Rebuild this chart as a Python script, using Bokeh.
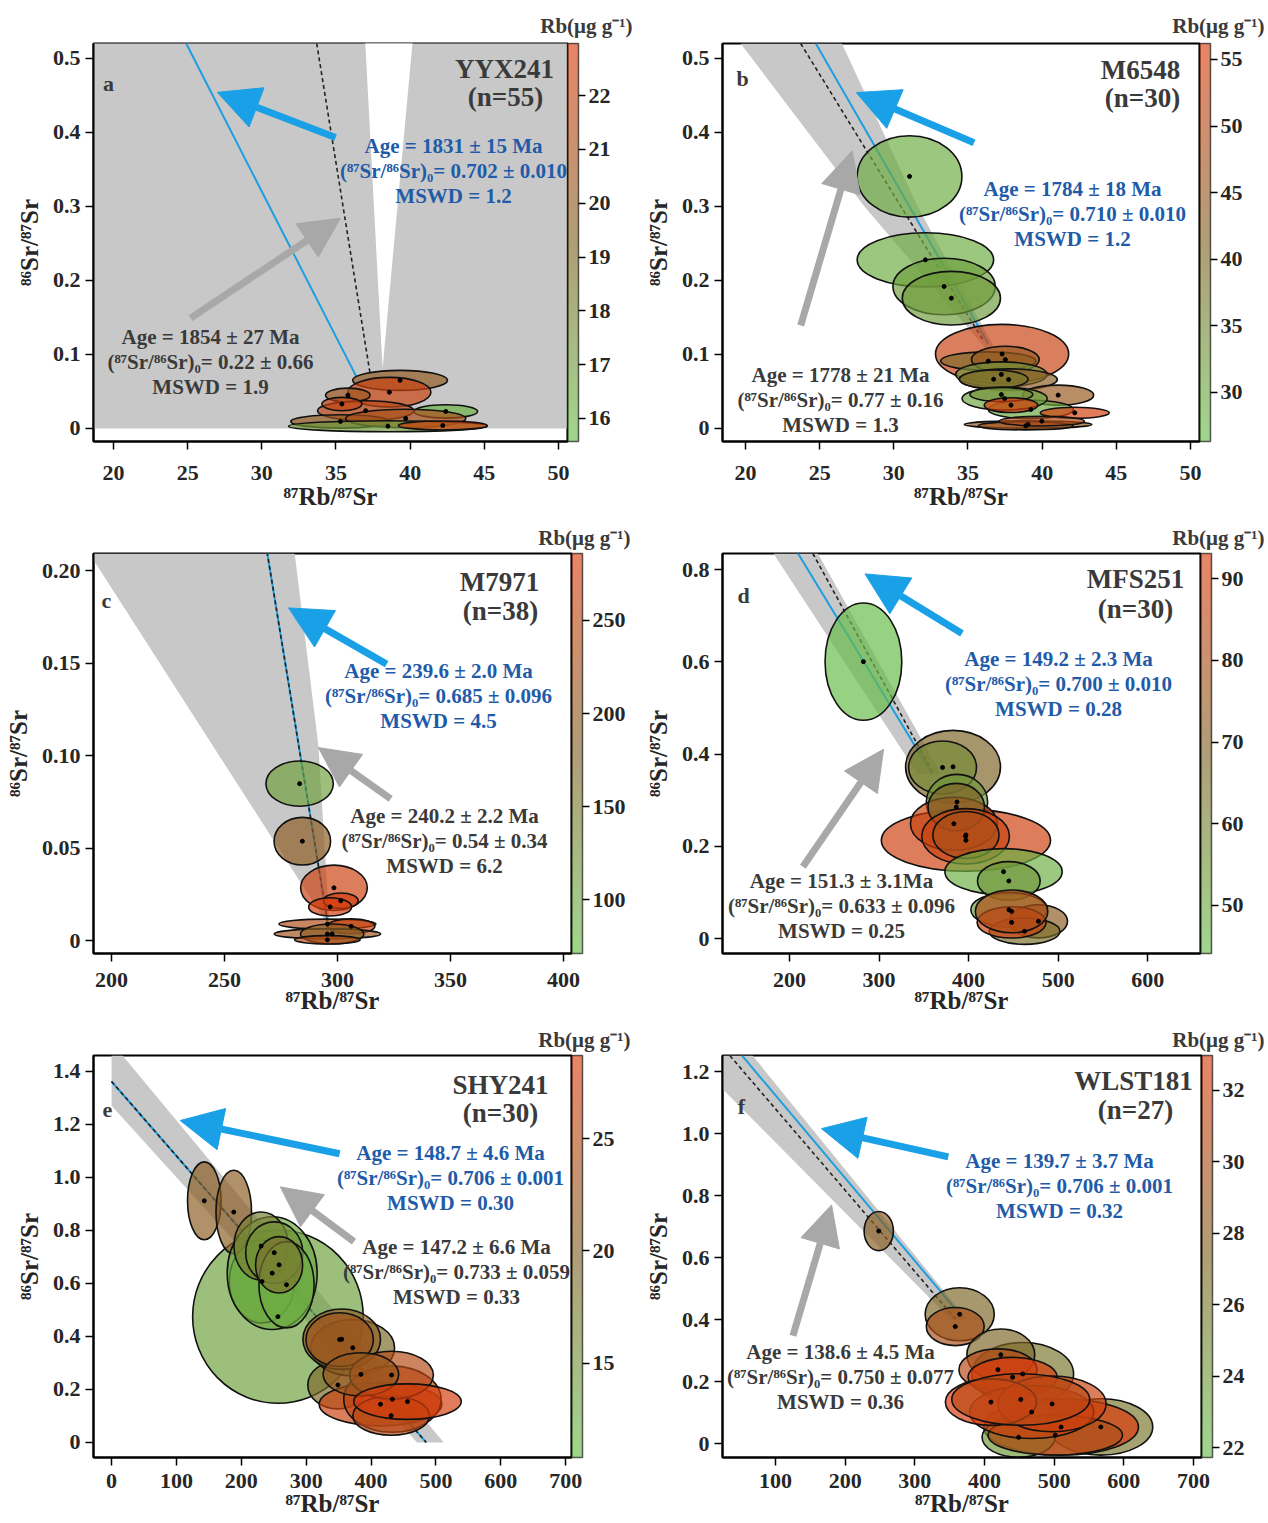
import math
from bokeh.plotting import figure
from bokeh.models import (Range1d, ColorBar, LinearColorMapper, FixedTicker, Arrow,
                          NormalHead, Label, ColumnDataSource, Title)
from bokeh.transform import transform
from bokeh.layouts import column, row
from bokeh.embed import file_html
from bokeh.resources import INLINE

# ---------------- DATA ----------------
# panel a : YYX241
a_x = [39.32, 38.6, 35.8, 37.0, 42.4, 35.3, 39.7, 38.5, 42.2, 35.4]
a_y = [0.065, 0.049, 0.045, 0.024, 0.023, 0.0095, 0.0135, 0.003, 0.004, 0.033]
a_w = [6.4, 5.6, 3.0, 6.5, 4.3, 6.7, 8.1, 13.4, 6.0, 2.7]
a_h = [0.027, 0.040, 0.019, 0.027, 0.018, 0.018, 0.025, 0.015, 0.012, 0.018]
a_rb = [20.0, 22.3, 20.5, 21.8, 16.0, 20.0, 21.0, 17.0, 22.5, 22.0]
# panel b : M6548
b_x = [31.06, 32.13, 33.39, 33.88, 37.3, 36.37, 37.52, 37.25, 37.74, 36.73, 41.08, 39.24,
       37.47, 37.25, 37.9, 42.2, 39.05, 38.9, 39.98]
b_y = [0.3405, 0.2278, 0.1918, 0.176, 0.1006, 0.091, 0.093, 0.073, 0.066, 0.0665, 0.045,
       0.0256, 0.0404, 0.0458, 0.0315, 0.0211, 0.0054, 0.0036, 0.0099]
b_w = [7.06, 9.2, 6.9, 6.62, 8.98, 6.43, 4.57, 6.16, 6.57, 4.65, 4.79, 5.75, 5.75, 4.24,
       3.61, 4.65, 8.6, 6.4, 5.75]
b_h = [0.110, 0.073, 0.0764, 0.0723, 0.080, 0.025, 0.036, 0.034, 0.029, 0.025, 0.027,
       0.025, 0.031, 0.019, 0.020, 0.015, 0.010, 0.011, 0.013]
b_rb = [29, 29, 31, 32, 53, 40, 45, 33, 43, 38, 45, 30, 30, 34, 56, 55, 45, 47, 50]
# panel c : M7971
c_x = [283.2, 284.4, 298.4, 301.4, 296.7, 295.5, 306.0, 295.5, 297.6, 295.5]
c_y = [0.0848, 0.0537, 0.0285, 0.0215, 0.0182, 0.0089, 0.0077, 0.0036, 0.0036, 0.0004]
c_w = [29.8, 25.0, 29.5, 15.4, 19.0, 43.0, 21.0, 47.0, 28.0, 29.0]
c_h = [0.0245, 0.0258, 0.0245, 0.0084, 0.0098, 0.0054, 0.008, 0.0054, 0.0107, 0.0045]
c_rb = [105, 195, 270, 275, 280, 235, 265, 220, 190, 240]
# panel d : MFS251
d_x = [282.5, 397.0, 382.6, 370.9, 387.0, 383.5, 386.2, 396.6, 397.0, 439.0, 444.9, 445.0,
       478.0, 462.5, 448.0, 448.0]
d_y = [0.6005, 0.213, 0.3724, 0.371, 0.296, 0.249, 0.285, 0.2217, 0.2246, 0.145, 0.1248,
       0.0624, 0.0373, 0.0158, 0.035, 0.0588]
d_w = [85.7, 189, 106, 75.8, 68.5, 97, 63, 98, 74, 131, 70, 85, 65, 79, 77, 81]
d_h = [0.2547, 0.134, 0.158, 0.115, 0.12, 0.115, 0.103, 0.12, 0.102, 0.10, 0.084, 0.075,
       0.072, 0.057, 0.068, 0.093]
d_rb = [44.5, 90, 68, 58, 55, 88, 68, 88, 80, 48, 55, 52, 72, 65, 90, 82]
# panel e : SHY241
e_x = [256.5, 143.0, 188.4, 231.9, 247.6, 230.6, 250.8, 269.7, 258.3, 349.0, 371.8, 354.8,
       351.6, 414.6, 432.9, 431.0, 431.6, 384.4, 456.2]
e_y = [0.4746, 0.9116, 0.869, 0.607, 0.6386, 0.741, 0.716, 0.5948, 0.67, 0.2166, 0.3569,
       0.3894, 0.388, 0.144, 0.163, 0.101, 0.254, 0.2567, 0.154]
e_w = [263, 51.7, 54.8, 100.8, 138.6, 83.8, 88, 85, 72.5, 93, 129, 119.7, 104, 189, 150,
       118, 129, 116.6, 165.7]
e_h = [0.654, 0.294, 0.3155, 0.313, 0.4257, 0.257, 0.232, 0.3256, 0.213, 0.18, 0.213, 0.228,
       0.203, 0.163, 0.25, 0.148, 0.18, 0.163, 0.134]
e_rb = [13.5, 21, 21, 12, 13, 17, 15, 12.5, 18, 19, 19, 21, 23, 27, 26, 25, 25, 22, 28]
# panel f : WLST181
f_x = [248.2, 364.4, 358.0, 454.9, 423.4, 419.3, 440.3, 567.0, 510.0, 449.0, 501.6, 467.7,
       497.0, 409.3, 452.0]
f_y = [0.6856, 0.417, 0.3775, 0.2246, 0.2866, 0.2385, 0.2139, 0.0535, 0.0535, 0.02, 0.027,
       0.1016, 0.128, 0.1337, 0.1422]
f_w = [42, 99.2, 83, 146, 97.5, 112, 128, 149, 222, 105, 193, 178, 155, 131, 198]
f_h = [0.126, 0.171, 0.123, 0.203, 0.166, 0.134, 0.128, 0.182, 0.182, 0.128, 0.128, 0.171,
       0.18, 0.15, 0.166]
f_rb = [28, 27, 30, 26, 27, 31, 33, 26, 33, 24, 30, 32, 32, 33, 31]

# isochron lines (blue = fit 1, dashed = fit 2)
a_blue_x, a_blue_y = [24.9, 36.4], [0.52, 0.069]
a_dash_x, a_dash_y = [33.7, 37.3], [0.52, 0.074]
b_blue_x, b_blue_y = [24.74, 36.37], [0.52, 0.1146]
b_dash_x, b_dash_y = [23.72, 36.0], [0.52, 0.12]
c_blue_x, c_blue_y = [268.8, 295.5], [0.21, 0.0107]
c_dash_x, c_dash_y = [268.8, 295.5], [0.21, 0.0107]
d_blue_x, d_blue_y = [209.5, 359.2], [0.835, 0.3566]
d_dash_x, d_dash_y = [226.0, 360.0], [0.835, 0.36]
e_blue_x, e_blue_y = [0.0, 485.0], [1.362, 0.0]
e_dash_x, e_dash_y = [0.0, 485.0], [1.362, 0.0]
f_blue_x, f_blue_y = [52.1, 358.6], [1.2513, 0.433]
f_dash_x, f_dash_y = [34.6, 358.6], [1.2513, 0.401]

# error envelopes
a_env_x, a_env_y = [18.65, 50.61, 50.61, 18.65], [0.0, 0.0, 0.53, 0.53]
a_gap_x, a_gap_y = [38.14, 36.95, 40.2], [0.081, 0.53, 0.53]
b_env_x = [19.67, 28.0, 36.2, 36.7, 31.6, 26.5]
b_env_y = [0.52, 0.30, 0.108, 0.112, 0.30, 0.52]
c_env_x = [192.0, 192.0, 283.7, 295.5, 296.4, 291.5, 281.0]
c_env_y = [0.2092, 0.2057, 0.0313, 0.0089, 0.0089, 0.1055, 0.2092]
d_env_x, d_env_y = [182.0, 343.0, 369.0, 231.6], [0.835, 0.357, 0.357, 0.835]
e_env_x, e_env_y = [0.0, 0.0, 17.0, 512.0, 471.0], [1.27, 1.46, 1.46, 0.0, 0.0]
f_env_x, f_env_y = [23.9, 23.9, 67.0, 375.0, 352.0], [1.144, 1.252, 1.252, 0.40, 0.40]

# arrows [x_start, y_start, x_end, y_end]
a_arrow_blue, a_arrow_gray = [34.97, 0.393, 27.0, 0.454], [25.2, 0.149, 35.3, 0.284]
b_arrow_blue, b_arrow_gray = [35.41, 0.386, 27.47, 0.4537], [23.72, 0.139, 27.2, 0.375]
c_arrow_blue, c_arrow_gray = [321.7, 0.1494, 278.3, 0.1798], [323.5, 0.0766, 291.5, 0.1043]
d_arrow_blue, d_arrow_gray = [392.6, 0.6615, 284.3, 0.7907], [214.9, 0.1557, 305.0, 0.4104]
e_arrow_blue, e_arrow_gray = [351.6, 1.0894, 105.9, 1.2146], [373.7, 0.7576, 260.2, 0.9642]
f_arrow_blue, f_arrow_gray = [348.0, 0.925, 166.0, 1.016], [125.0, 0.3476, 180.5, 0.77]

# texts
R0 = "(\u2078\u2077Sr/\u2078\u2076Sr)\u2080= "
a_blue_txt = ["Age = 1831 \u00b1 15 Ma", R0 + "0.702 \u00b1 0.010", "MSWD = 1.2"]
a_gray_txt = ["Age = 1854 \u00b1 27 Ma", R0 + "0.22 \u00b1 0.66", "MSWD = 1.9"]
b_blue_txt = ["Age = 1784 \u00b1 18 Ma", R0 + "0.710 \u00b1 0.010", "MSWD = 1.2"]
b_gray_txt = ["Age = 1778 \u00b1 21 Ma", R0 + "0.77 \u00b1 0.16", "MSWD = 1.3"]
c_blue_txt = ["Age = 239.6 \u00b1 2.0 Ma", R0 + "0.685 \u00b1 0.096", "MSWD = 4.5"]
c_gray_txt = ["Age = 240.2 \u00b1 2.2 Ma", R0 + "0.54 \u00b1 0.34", "MSWD = 6.2"]
d_blue_txt = ["Age = 149.2 \u00b1 2.3 Ma", R0 + "0.700 \u00b1 0.010", "MSWD = 0.28"]
d_gray_txt = ["Age = 151.3 \u00b1 3.1Ma", R0 + "0.633 \u00b1 0.096", "MSWD = 0.25"]
e_blue_txt = ["Age = 148.7 \u00b1 4.6 Ma", R0 + "0.706 \u00b1 0.001", "MSWD = 0.30"]
e_gray_txt = ["Age = 147.2 \u00b1 6.6 Ma", R0 + "0.733 \u00b1 0.059", "MSWD = 0.33"]
f_blue_txt = ["Age = 139.7 \u00b1 3.7 Ma", R0 + "0.706 \u00b1 0.001", "MSWD = 0.32"]
f_gray_txt = ["Age = 138.6 \u00b1 4.5 Ma", R0 + "0.750 \u00b1 0.077", "MSWD = 0.36"]
samples = ["YYX241", "M6548", "M7971", "MFS251", "SHY241", "WLST181"]
counts = ["(n=55)", "(n=30)", "(n=38)", "(n=30)", "(n=30)", "(n=27)"]
letters = ["a", "b", "c", "d", "e", "f"]
x_title = "\u2078\u2077Rb/\u2078\u2077Sr"
y_title = "\u2078\u2076Sr/\u2078\u2077Sr"
cb_title = "Rb(\u03bcg g\u207b\u00b9)"

# ticks
a_xticks = [20, 25, 30, 35, 40, 45, 50]
a_yticks = [0, 0.1, 0.2, 0.3, 0.4, 0.5]
a_ylabels = ["0", "0.1", "0.2", "0.3", "0.4", "0.5"]
b_xticks = [20, 25, 30, 35, 40, 45, 50]
b_yticks = [0, 0.1, 0.2, 0.3, 0.4, 0.5]
b_ylabels = ["0", "0.1", "0.2", "0.3", "0.4", "0.5"]
c_xticks = [200, 250, 300, 350, 400]
c_yticks = [0, 0.05, 0.10, 0.15, 0.20]
c_ylabels = ["0", "0.05", "0.10", "0.15", "0.20"]
d_xticks = [200, 300, 400, 500, 600]
d_yticks = [0, 0.2, 0.4, 0.6, 0.8]
d_ylabels = ["0", "0.2", "0.4", "0.6", "0.8"]
e_xticks = [0, 100, 200, 300, 400, 500, 600, 700]
e_yticks = [0, 0.2, 0.4, 0.6, 0.8, 1.0, 1.2, 1.4]
e_ylabels = ["0", "0.2", "0.4", "0.6", "0.8", "1.0", "1.2", "1.4"]
f_xticks = [100, 200, 300, 400, 500, 600, 700]
f_yticks = [0, 0.2, 0.4, 0.6, 0.8, 1.0, 1.2]
f_ylabels = ["0", "0.2", "0.4", "0.6", "0.8", "1.0", "1.2"]
a_cbticks = [16, 17, 18, 19, 20, 21, 22]
b_cbticks = [30, 35, 40, 45, 50, 55]
c_cbticks = [100, 150, 200, 250]
d_cbticks = [50, 60, 70, 80, 90]
e_cbticks = [15, 20, 25]
f_cbticks = [22, 24, 26, 28, 30, 32]
a_cbrange = [15.57, 22.97]
b_cbrange = [26.3, 56.2]
c_cbrange = [71, 286]
d_cbrange = [44.1, 93.1]
e_cbrange = [10.8, 28.7]
f_cbrange = [21.72, 32.98]

# ---------------- STYLE / LAYOUT ----------------
FONT = "Liberation Serif"
BLUE_LINE = "#1c9fe0"
BLUE_ARROW = "#1aa0e6"
GRAY_ARROW = "#a8a8a8"
BLUE_TXT = "#1f5ba8"
GRAY_TXT = "#3a3a3a"
DARK = "#262626"
ENV = "#c8c8c8"
ALPHA = 0.68


def hex2rgb(h):
    h = h.lstrip("#")
    return [int(h[i:i + 2], 16) for i in (0, 2, 4)]


def make_palette(anchors, n=256):
    cols = [hex2rgb(a) for a in anchors]
    out = []
    for i in range(n):
        t = i / (n - 1) * (len(cols) - 1)
        k = min(int(t), len(cols) - 2)
        f = t - k
        c = [round(cols[k][j] * (1 - f) + cols[k + 1][j] * f) for j in range(3)]
        out.append("#%02x%02x%02x" % tuple(c))
    return out


PAL = make_palette(["#66bd48", "#7f6226", "#da3a0a"])

# frames in page pixels (left, top, right, bottom) and data ranges
panels = [
    dict(key="a", frame=(93, 43, 567, 441), xr=(18.65, 50.61), yr=(-0.0176, 0.520), col=0, rowi=0),
    dict(key="b", frame=(722, 43, 1199, 441), xr=(18.45, 50.61), yr=(-0.0176, 0.520), col=1, rowi=0),
    dict(key="c", frame=(93, 553, 571, 953), xr=(192.0, 403.5), yr=(-0.007, 0.2092), col=0, rowi=1),
    dict(key="d", frame=(722, 553, 1200, 953), xr=(125.1, 659.0), yr=(-0.0325, 0.835), col=1, rowi=1),
    dict(key="e", frame=(93, 1053, 571, 1455), xr=(-27.8, 709.0), yr=(-0.057, 1.460), col=0, rowi=2),
    dict(key="f", frame=(722, 1053, 1201, 1455), xr=(23.9, 711.5), yr=(-0.045, 1.252), col=1, rowi=2),
]
col_left = [0, 634]
row_top = [0, 518, 1022]
row_h = [518, 504, 501]
FIG_W = 634
x_standoff = [(16, 0), (11, -3), (8, -1)]   # (tick label standoff, axis label standoff) per row
cbt_right = {"a": 632, "b": 1264, "c": 630, "d": 1264, "e": 630, "f": 1264}
cbt_standoff = [11, 8, 7]

# text placement (page px)
txt_pos = {
    "a": dict(blue=(453, 145), gray=(210, 336), samp=(504, 68), n=(505, 96), let=(108, 83)),
    "b": dict(blue=(1072, 188), gray=(840, 374), samp=(1140, 69), n=(1142, 97), let=(742, 78)),
    "c": dict(blue=(438, 670), gray=(444, 815), samp=(499, 581), n=(500, 610), let=(106, 600)),
    "d": dict(blue=(1058, 658), gray=(841, 880), samp=(1135, 578), n=(1135, 608), let=(743, 595)),
    "e": dict(blue=(450, 1150), gray=(456, 1244), samp=(500, 1082), n=(500, 1110), let=(107, 1107)),
    "f": dict(blue=(1059, 1158), gray=(840, 1349), samp=(1133, 1078), n=(1135, 1107), let=(741, 1104)),
}

G = globals()


def build(cfg, idx):
    k = cfg["key"]
    l, t, r, b = cfg["frame"]
    x0, x1 = cfg["xr"]
    y0, y1 = cfg["yr"]

    def P(X, Y):
        return (x0 + (X - l) / (r - l) * (x1 - x0), y1 - (Y - t) / (b - t) * (y1 - y0))

    fl = col_left[cfg["col"]]
    ft = row_top[cfg["rowi"]]
    bl = l - fl
    bt = t - ft
    fw = r - l
    fh = b - t
    br = FIG_W - bl - fw
    bb = row_h[cfg["rowi"]] - bt - fh

    p = figure(frame_width=fw, frame_height=fh, x_range=Range1d(x0, x1), y_range=Range1d(y0, y1),
               output_backend="svg", toolbar_location=None,
               min_border_left=bl, min_border_right=br, min_border_top=bt, min_border_bottom=bb)
    p.outline_line_color = "black"
    p.outline_line_width = 2
    p.grid.visible = False
    p.background_fill_color = "white"
    p.border_fill_color = "white"
    for ax in (p.xaxis[0], p.yaxis[0]):
        ax.axis_line_width = 2
        ax.axis_line_color = "black"
        ax.major_tick_line_width = 1.5
        ax.major_tick_line_color = "black"
        ax.major_tick_in = 0
        ax.major_tick_out = 8
        ax.minor_tick_line_color = None
        ax.major_label_text_font = FONT
        ax.major_label_text_font_style = "bold"
        ax.major_label_text_font_size = "22px"
        ax.major_label_text_color = DARK
        ax.axis_label_text_font = FONT
        ax.axis_label_text_font_style = "bold"
        ax.axis_label_text_font_size = "25px"
        ax.axis_label_text_color = DARK
    ms, als = x_standoff[cfg["rowi"]]
    p.xaxis.major_label_standoff = ms
    p.xaxis.axis_label_standoff = als
    p.xaxis.axis_label = x_title
    p.yaxis.major_label_standoff = 5
    p.yaxis.axis_label_standoff = 7
    p.yaxis.axis_label = y_title
    p.xaxis.ticker = FixedTicker(ticks=G[k + "_xticks"])
    p.yaxis.ticker = FixedTicker(ticks=G[k + "_yticks"])
    p.yaxis.major_label_overrides = dict(zip(G[k + "_yticks"], G[k + "_ylabels"]))

    p.title = Title(text=cb_title, align="right", offset=-(cbt_right[k] - r),
                    text_font=FONT, text_font_style="bold", text_font_size="21px",
                    text_color=GRAY_TXT, standoff=cbt_standoff[cfg["rowi"]])

    lo, hi = G[k + "_cbrange"]
    mapper = LinearColorMapper(palette=PAL, low=lo, high=hi)

    # envelope
    p.patch(G[k + "_env_x"], G[k + "_env_y"], fill_color=ENV, line_color=None)
    if k == "a":
        p.patch(a_gap_x, a_gap_y, fill_color="white", line_color=None)
    p.line(G[k + "_blue_x"], G[k + "_blue_y"], line_color=BLUE_LINE, line_width=2)
    p.line(G[k + "_dash_x"], G[k + "_dash_y"], line_color="#222222", line_width=1.6,
           line_dash="4 3")

    src = ColumnDataSource(dict(x=G[k + "_x"], y=G[k + "_y"], w=G[k + "_w"], h=G[k + "_h"],
                                rb=G[k + "_rb"]))
    p.ellipse(x="x", y="y", width="w", height="h", source=src,
              fill_color=transform("rb", mapper), fill_alpha=ALPHA,
              line_color="#111111", line_width=1.6)
    p.scatter(x="x", y="y", source=src, size=4, color="black")

    for name, colr, size in (("_arrow_blue", BLUE_ARROW, 42), ("_arrow_gray", GRAY_ARROW, 40)):
        xs, ys, xe, ye = G[k + name]
        p.add_layout(Arrow(end=NormalHead(size=size, fill_color=colr, line_color=colr, line_width=1),
                           x_start=xs, y_start=ys, x_end=xe, y_end=ye,
                           line_color=colr, line_width=7))

    tp = txt_pos[k]

    def lab(X, Y, text, size, color, align="center"):
        x, y = P(X, Y)
        p.add_layout(Label(x=x, y=y, text=text, text_font=FONT, text_font_style="bold",
                           text_font_size=size, text_color=color, text_align=align,
                           text_baseline="middle"))

    for j, s in enumerate(G[k + "_blue_txt"]):
        lab(tp["blue"][0], tp["blue"][1] + 25 * j, s, "21px", BLUE_TXT)
    for j, s in enumerate(G[k + "_gray_txt"]):
        lab(tp["gray"][0], tp["gray"][1] + 25 * j, s, "21px", GRAY_TXT)
    lab(*tp["samp"], samples[idx], "27px", GRAY_TXT)
    lab(*tp["n"], counts[idx], "27px", GRAY_TXT)
    lab(*tp["let"], letters[idx], "22px", GRAY_TXT)

    cb = ColorBar(color_mapper=mapper, width=11, padding=0, margin=0,
                  ticker=FixedTicker(ticks=G[k + "_cbticks"]),
                  major_tick_in=0, major_tick_out=7, major_tick_line_color="black",
                  major_tick_line_width=1.5, minor_tick_line_color=None, label_standoff=3,
                  major_label_text_font=FONT, major_label_text_font_style="bold",
                  major_label_text_font_size="22px", major_label_text_color=DARK,
                  bar_line_color="black", bar_line_width=1.5, scale_alpha=0.62,
                  border_line_color=None, background_fill_color=None)
    p.add_layout(cb, "right")
    return p


figs = [build(cfg, i) for i, cfg in enumerate(panels)]
layout = column(row(figs[0], figs[1]), row(figs[2], figs[3]), row(figs[4], figs[5]))

open("out.html", "w").write(file_html(layout, INLINE))
